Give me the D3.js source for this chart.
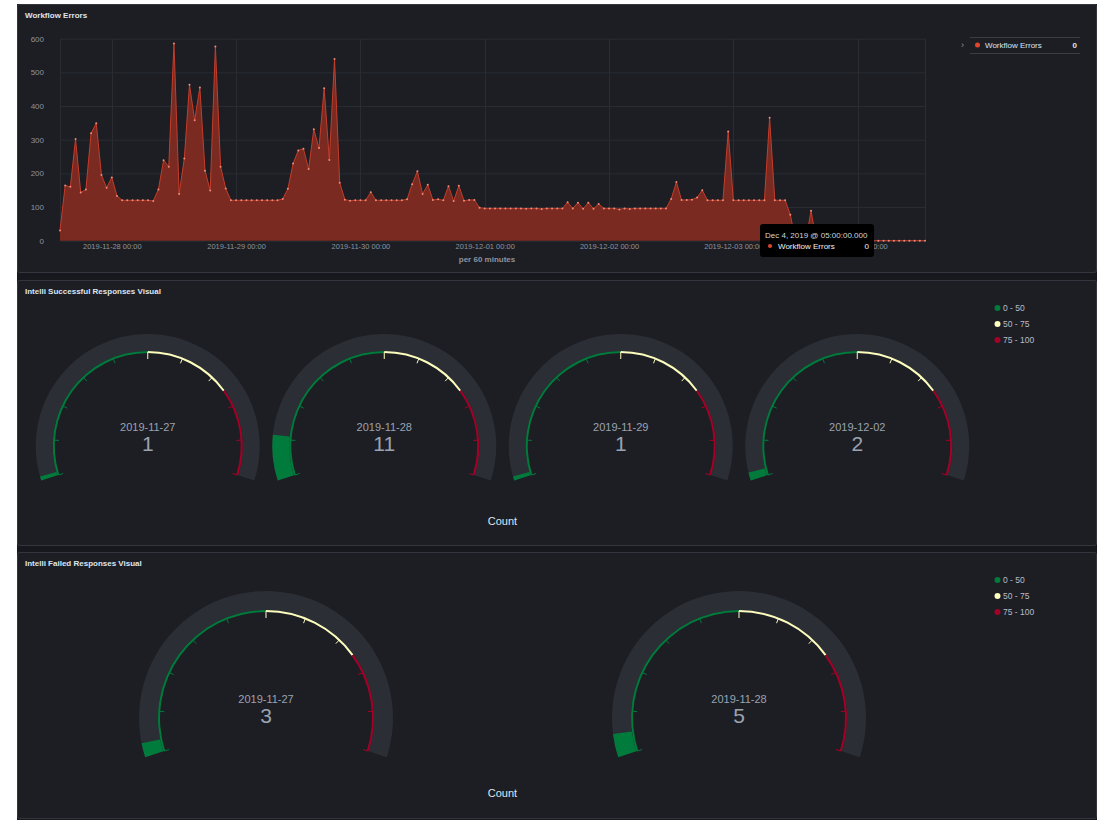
<!DOCTYPE html>
<html>
<head>
<meta charset="utf-8">
<script src="https://cdn.jsdelivr.net/npm/d3@7"></script>
<style>
  body { margin: 0; background: #fff; }
  text { font-family: "Liberation Sans", Arial, sans-serif; }
</style>
</head>
<body>
<div id="dashboard"></div>
<script>
// hourly Workflow Errors, 2019-11-27 14:00 .. 2019-12-04 13:00
const errorCounts = [
  30, 164, 160, 302, 143, 152, 319, 349, 195, 157,
  188, 133, 120, 120, 120, 120, 120, 120, 118, 152,
  239, 220, 586, 139, 244, 463, 358, 455, 208, 149,
  577, 220, 155, 120, 120, 120, 120, 120, 120, 120,
  120, 120, 120, 124, 154, 229, 268, 273, 213, 331,
  275, 453, 240, 540, 172, 122, 119, 120, 120, 120,
  144, 120, 120, 120, 120, 120, 120, 123, 168, 206,
  139, 166, 121, 123, 120, 162, 118, 163, 119, 121,
  121, 98, 96, 96, 96, 96, 96, 96, 96, 96,
  95, 96, 96, 94, 96, 96, 96, 96, 114, 96,
  113, 95, 113, 95, 109, 96, 96, 96, 93, 96,
  94, 96, 96, 96, 96, 96, 96, 96, 124, 174,
  121, 121, 122, 128, 150, 120, 120, 120, 120, 324,
  120, 120, 120, 120, 120, 120, 120, 365, 120, 120,
  120, 77, 0, 0, 0, 89, 0, 0, 0, 0,
  0, 0, 0, 0, 0, 0, 0, 0, 0, 0,
  0, 0, 0, 0, 0, 0, 0, 0
];
const firstHour = "2019-11-27T14:00:00Z";
const yTickValues = [0, 100, 200, 300, 400, 500, 600];
const seriesName = "Workflow Errors";
const tooltipTime = "Dec 4, 2019 @ 05:00:00.000";
const tooltipValue = 0;
const legendValue = 0;

const bandLimits = [0, 50, 75, 100];
const bandLabels = ["0 - 50", "50 - 75", "75 - 100"];
const successDates = ["2019-11-27", "2019-11-28", "2019-11-29", "2019-12-02"];
const successCounts = [1, 11, 1, 2];
const failedDates = ["2019-11-27", "2019-11-28"];
const failedCounts = [3, 5];

const bandColors = ["#007b3c", "#fdfdbe", "#a50026"];
const panelFill = "#1d1e24", panelStroke = "#33363e";
const titleColor = "#dfe5ef", labelColor = "#8e939c";

const svg = d3.select("#dashboard").append("svg")
  .attr("width", 1103)
  .attr("height", 821);

svg.append("rect").attr("width", 1103).attr("height", 821).attr("fill", "#fff");
svg.append("rect")
  .attr("x", 17).attr("y", 4).attr("width", 1080).attr("height", 816)
  .attr("fill", "#17181d");

function panel(y, h, title) {
  svg.append("rect")
    .attr("x", 17.5).attr("y", y + 0.5)
    .attr("width", 1079).attr("height", h)
    .attr("rx", 2)
    .attr("fill", panelFill)
    .attr("stroke", panelStroke);
  svg.append("text")
    .attr("x", 25).attr("y", y + 14)
    .attr("font-size", 8).attr("font-weight", "bold")
    .attr("fill", titleColor)
    .text(title);
}

panel(4, 268, "Workflow Errors");
panel(280, 265, "Intelli Successful Responses Visual");
panel(552, 266, "Intelli Failed Responses Visual");

// ---------- area chart ----------
const start = new Date(firstHour);
const points = errorCounts.map((v, i) => ({ t: d3.utcHour.offset(start, i), v }));

const x = d3.scaleUtc()
  .domain([points[0].t, points[points.length - 1].t])
  .range([60, 925]);
const y = d3.scaleLinear().domain([0, 600]).range([240.7, 38.7]);

const chart = svg.append("g");

chart.append("g")
  .selectAll("line").data(yTickValues).join("line")
  .attr("x1", 60).attr("x2", 925)
  .attr("y1", d => y(d) + 0.5).attr("y2", d => y(d) + 0.5)
  .attr("stroke", "#292c33");

const dayTicks = x.ticks(d3.utcDay.every(1));
chart.append("g")
  .selectAll("line").data([points[0].t, ...dayTicks, points[points.length - 1].t]).join("line")
  .attr("x1", d => Math.round(x(d)) + 0.5).attr("x2", d => Math.round(x(d)) + 0.5)
  .attr("y1", 38.7).attr("y2", 240.7)
  .attr("stroke", "#292c33");

const xAxis = chart.append("g")
  .attr("transform", "translate(0,241)")
  .call(d3.axisBottom(x).tickValues(dayTicks).tickFormat(d3.utcFormat("%Y-%m-%d %H:%M")).tickSize(0).tickPadding(3));
xAxis.select(".domain").remove();
xAxis.selectAll("text")
  .attr("font-family", "Liberation Sans, Arial, sans-serif")
  .attr("font-size", 7.5).attr("fill", labelColor);

const yAxis = chart.append("g")
  .attr("transform", "translate(44,0)")
  .call(d3.axisLeft(y).tickValues(yTickValues).tickSize(0).tickPadding(0));
yAxis.select(".domain").remove();
yAxis.selectAll("text")
  .attr("font-family", "Liberation Sans, Arial, sans-serif")
  .attr("font-size", 8).attr("fill", labelColor);

chart.append("path")
  .datum(points)
  .attr("fill", "#7a2a20")
  .attr("d", d3.area().x(d => x(d.t)).y0(y(0)).y1(d => y(d.v)));

chart.append("path")
  .datum(points)
  .attr("fill", "none")
  .attr("stroke", "#c43d2b")
  .attr("stroke-width", 1)
  .attr("d", d3.line().x(d => x(d.t)).y(d => y(d.v)));

chart.append("g")
  .selectAll("circle").data(points).join("circle")
  .attr("cx", d => x(d.t)).attr("cy", d => y(d.v))
  .attr("r", 1)
  .attr("fill", "#f08a76");

chart.append("text")
  .attr("x", 487).attr("y", 262)
  .attr("text-anchor", "middle")
  .attr("font-size", 8).attr("font-weight", "bold")
  .attr("fill", labelColor)
  .text("per 60 minutes");

// legend
const legend = svg.append("g");
legend.append("line").attr("x1", 970).attr("x2", 1080).attr("y1", 37.5).attr("y2", 37.5).attr("stroke", "#3a3d45");
legend.append("line").attr("x1", 970).attr("x2", 1080).attr("y1", 53.5).attr("y2", 53.5).attr("stroke", "#3a3d45");
legend.append("text").attr("x", 961).attr("y", 48).attr("font-size", 9).attr("fill", labelColor).text("›");
legend.append("circle").attr("cx", 977.5).attr("cy", 45).attr("r", 2.5).attr("fill", "#e2452b");
legend.append("text").attr("x", 985).attr("y", 48).attr("font-size", 8).attr("fill", titleColor).text(seriesName);
legend.append("text").attr("x", 1077).attr("y", 48).attr("font-size", 8).attr("font-weight", "bold")
  .attr("text-anchor", "end").attr("fill", titleColor).text(legendValue);

// tooltip
const tip = svg.append("g").attr("transform", "translate(760,224)");
tip.append("rect").attr("width", 114).attr("height", 33).attr("rx", 3).attr("fill", "#000");
tip.append("text").attr("x", 5).attr("y", 14).attr("font-size", 8).attr("fill", "#d4d6da").text(tooltipTime);
tip.append("circle").attr("cx", 10).attr("cy", 22).attr("r", 2).attr("fill", "#e2452b");
tip.append("text").attr("x", 18).attr("y", 25).attr("font-size", 8).attr("fill", "#f2f3f5").text(seriesName);
tip.append("text").attr("x", 109).attr("y", 25).attr("font-size", 8).attr("text-anchor", "end").attr("fill", "#f2f3f5").text(tooltipValue);

// ---------- gauges ----------
const half = 0.6 * Math.PI;
const angle = d3.scaleLinear().domain([0, 100]).range([-half, half]);
const bandOf = v => Math.min(bandLabels.length - 1, d3.bisectRight(bandLimits, v) - 1);

function gauge(g, cx, cy, r, thick, value, date) {
  const gg = g.append("g").attr("transform", `translate(${cx},${cy})`);
  gg.append("path")
    .attr("fill", "#2b2e35")
    .attr("d", d3.arc()({ innerRadius: r, outerRadius: r + thick, startAngle: -half, endAngle: half }));
  gg.append("path")
    .attr("fill", bandColors[bandOf(value)])
    .attr("d", d3.arc()({ innerRadius: r, outerRadius: r + thick, startAngle: -half, endAngle: angle(value) }));
  bandLabels.forEach((_, i) => {
    gg.append("path")
      .attr("fill", bandColors[i])
      .attr("d", d3.arc()({ innerRadius: r - 2, outerRadius: r, startAngle: angle(bandLimits[i]), endAngle: angle(bandLimits[i + 1]) }));
  });
  d3.range(0, 101, 10).forEach(v => {
    const a = angle(v);
    const len = v === 50 ? 7 : 5;
    gg.append("line")
      .attr("x1", Math.sin(a) * (r - 1)).attr("y1", -Math.cos(a) * (r - 1))
      .attr("x2", Math.sin(a) * (r - 1 - len)).attr("y2", -Math.cos(a) * (r - 1 - len))
      .attr("stroke", bandColors[bandOf(v)])
      .attr("stroke-width", 1);
  });
  gg.append("text")
    .attr("y", -15).attr("text-anchor", "middle")
    .attr("font-size", 11).attr("fill", "#9aa3b1")
    .text(date);
  gg.append("text")
    .attr("y", 5).attr("text-anchor", "middle")
    .attr("font-size", 21).attr("fill", "#9aa3b1")
    .text(value);
}

function gaugePanel(top, dates, counts, cy, r, thick) {
  const g = svg.append("g");
  const cx = d3.scaleBand().domain(dates).range([29.5, 975.5]);
  dates.forEach((d, i) => gauge(g, cx(d) + cx.bandwidth() / 2, cy, r, thick, counts[i], d));
  g.append("text")
    .attr("x", 502.5).attr("y", top + 245)
    .attr("text-anchor", "middle")
    .attr("font-size", 11).attr("fill", titleColor)
    .text("Count");
  bandLabels.forEach((lab, i) => {
    g.append("circle").attr("cx", 997.5).attr("cy", top + 28 + i * 16).attr("r", 3).attr("fill", bandColors[i]);
    g.append("text").attr("x", 1003).attr("y", top + 31 + i * 16)
      .attr("font-size", 8.5).attr("fill", "#b8bdc6").text(lab);
  });
}

gaugePanel(280, successDates, successCounts, 446, 95, 17);
gaugePanel(552, failedDates, failedCounts, 718, 108, 19);
</script>
</body>
</html>
